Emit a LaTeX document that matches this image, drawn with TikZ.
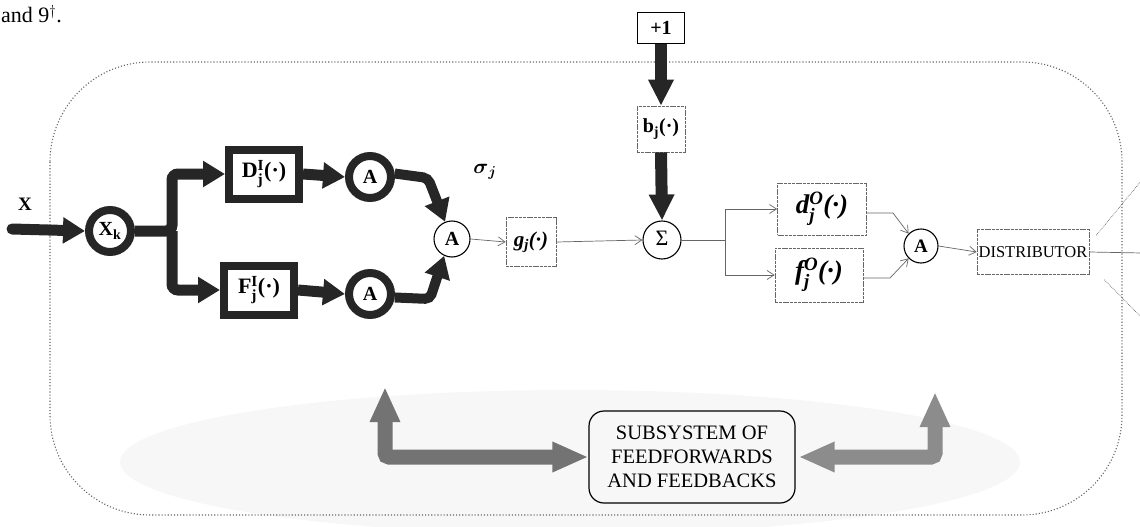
\documentclass[tikz,border=0pt]{standalone}
\usepackage{amsmath}
\usepackage{fontspec}
\setmainfont{Liberation Serif}
\usetikzlibrary{arrows.meta,shapes.geometric}
\begin{document}
\begin{tikzpicture}[x=1pt,y=-1pt,
 thickring/.style={circle, draw=black!85, line width=8pt, minimum size=42pt, inner sep=0pt, fill=white, font=\fontsize{20}{22}\selectfont\bfseries},
 thickbox/.style={draw=black!85, line width=8pt, minimum width=70pt, minimum height=49pt, inner sep=0pt, fill=white, font=\fontsize{22}{24}\selectfont\bfseries},
 thinring/.style={circle, draw=black, line width=1.1pt, minimum size=36pt, inner sep=0pt, fill=white},
 dbox/.style={draw=black!60, line width=0.7pt, dash pattern=on 3pt off 0.8pt, inner sep=0pt, fill=white},
 thinarr/.style={draw=black!60, line width=0.7pt, -{Straight Barb[length=7pt,width=9pt]}},
 thinline/.style={draw=black!60, line width=0.7pt},
 thickarr/.style={draw=black!85, line width=11pt, -{Triangle[length=22pt,width=25pt]}},
 grayarr/.style={draw=black!55, line width=15pt},
 boundary/.style={draw=black!60, line width=1.1pt, dotted},
]
\useasboundingbox (0,0) rectangle (1140,527);
% faint stippled background
\fill[black!3] (570,462) ellipse [x radius=450, y radius=72];
% outer boundary
\draw[boundary, rounded corners=100pt] (50,62) rectangle (1122,515);
% leading text
\node[anchor=base west, inner sep=0pt, font=\fontsize{22}{24}\selectfont] (lead) at (1,23) {and 9$^\dagger$.};

% nodes
\node[inner sep=0pt, font=\fontsize{19}{20}\selectfont\bfseries] (xl) at (25,204) {X};
\node[thickring] (xk) at (110,231) {X\textsubscript{k}};
\node[thickbox] (D) at (264,174) {D$_{\textbf{j}}^{\textbf{I}}$(·)};
\node[thickbox] (F) at (259,290) {F$_{\textbf{j}}^{\textbf{I}}$(·)};
\node[thickring] (at) at (370,177) {A};
\node[thickring] (ab) at (370,294) {A};
\node[thinring, font=\fontsize{20}{22}\selectfont\bfseries] (ac) at (452,239) {A};
\node[font=\fontsize{21}{22}\selectfont] (sig) at (485,172) {$\boldsymbol{\sigma}_{\boldsymbol{j}}$};
\node[dbox, minimum width=50pt, minimum height=49pt, font=\fontsize{21}{22}\selectfont\bfseries\itshape] (g) at (531,242) {g$_{\textit{j}}$(·)};
\node[thinring, minimum size=38pt, font=\fontsize{22}{22}\selectfont] (sum) at (662,240) {\raisebox{3pt}{Σ}};
\node[draw=black, line width=0.9pt, minimum width=47pt, minimum height=31pt, inner sep=0pt, fill=white, font=\fontsize{20}{22}\selectfont\bfseries] (one) at (661,28) {+1};
\node[dbox, minimum width=48pt, minimum height=46pt, font=\fontsize{20}{22}\selectfont\bfseries] (b) at (661,129) {b$_{\textbf{j}}$(·)};
\node[dbox, minimum width=89pt, minimum height=52pt, font=\fontsize{27}{28}\selectfont\bfseries\itshape] (d) at (822,209) {d$_{\textit{j}}^{\textit{O}}$(·)};
\node[dbox, minimum width=88pt, minimum height=54pt, font=\fontsize{27}{28}\selectfont\bfseries\itshape] (f) at (819,275) {f$_{\textit{j}}^{\textit{O}}$(·)};
\node[thinring, minimum size=34pt, font=\fontsize{19}{20}\selectfont\bfseries] (a3) at (921,246) {A};
\node[dbox, minimum width=112pt, minimum height=45pt, font=\fontsize{16.5}{18}\selectfont] (dist) at (1033,252) {DISTRIBUTOR};
\node[draw=black, line width=1.2pt, rounded corners=15pt, minimum width=206pt, minimum height=92pt, inner sep=0pt, align=center, font=\fontsize{20.5}{24}\selectfont] (sub) at (692,457) {SUBSYSTEM OF\\FEEDFORWARDS\\AND FEEDBACKS};

% coordinates
\coordinate (xs) at (12,229);
\coordinate (br) at (172,231);
\coordinate (tb) at (428,178);
\coordinate (bb) at (430,299);
\coordinate (sp) at (725,240);
\coordinate (dk) at (893,213);
\coordinate (fk) at (890,278);
\coordinate (o1) at (1142,180);
\coordinate (o2) at (1142,253);
\coordinate (o3) at (1142,318);
\coordinate (lu) at (385,387);
\coordinate (ru) at (935,392);

% thick arrows
\draw[thickarr, line cap=round] (xs) -- (xk.west);
\draw[thickarr, rounded corners=6pt] (xk.east) -- (br) |- (D.west);
\draw[thickarr, rounded corners=6pt] (br) |- (F.west);
\draw[thickarr] (D.east) -- (at.west);
\draw[thickarr] (F.east) -- (ab.west);
\draw[thickarr, line width=10pt, rounded corners=5pt] (at.8) -- (tb) -- (ac.112);
\draw[thickarr, line width=10pt, rounded corners=5pt] (ab.-8) -- (bb) -- (ac.245);
\draw[thickarr, line width=12pt, -{Triangle[length=26pt,width=24pt]}] (one.south) -- (b.north);
\draw[thickarr, line width=12pt, -{Triangle[length=26pt,width=24pt]}] (b.south) -- (sum.north);

% thin connectors
\draw[thinarr] (ac.east) -- (g.west);
\draw[thinarr] (g.east) -- (sum.west);
\draw[thinline] (sum.east) -- (sp);
\draw[thinarr] (sp) |- (d.west);
\draw[thinarr] (sp) |- (f.west);
\draw[thinarr] ([yshift=-4pt]d.east) -- (dk) -- (a3.135);
\draw[thinarr] ([yshift=-3pt]f.east) -- (fk) -- (a3.225);
\draw[thinarr] (a3.east) -- (dist.west);
\draw[thinline] (dist.east) -- (o2);
\draw[thinline, densely dotted] ([xshift=7pt,yshift=-6pt]dist.north east) -- (o1);
\draw[thinline, densely dotted] ([xshift=15pt,yshift=-5pt]dist.south east) -- (o3);

% gray feedback arrows
\draw[grayarr, {Triangle[length=35pt,width=28pt]}-{Triangle[length=36pt,width=28pt]}, rounded corners=4pt] (lu) |- (sub.west);
\draw[grayarr, draw=black!45, {Triangle[length=35pt,width=28pt]}-{Triangle[length=36pt,width=28pt]}, rounded corners=4pt, shorten >=3pt] (ru) |- (sub.east);
\end{tikzpicture}
\end{document}
